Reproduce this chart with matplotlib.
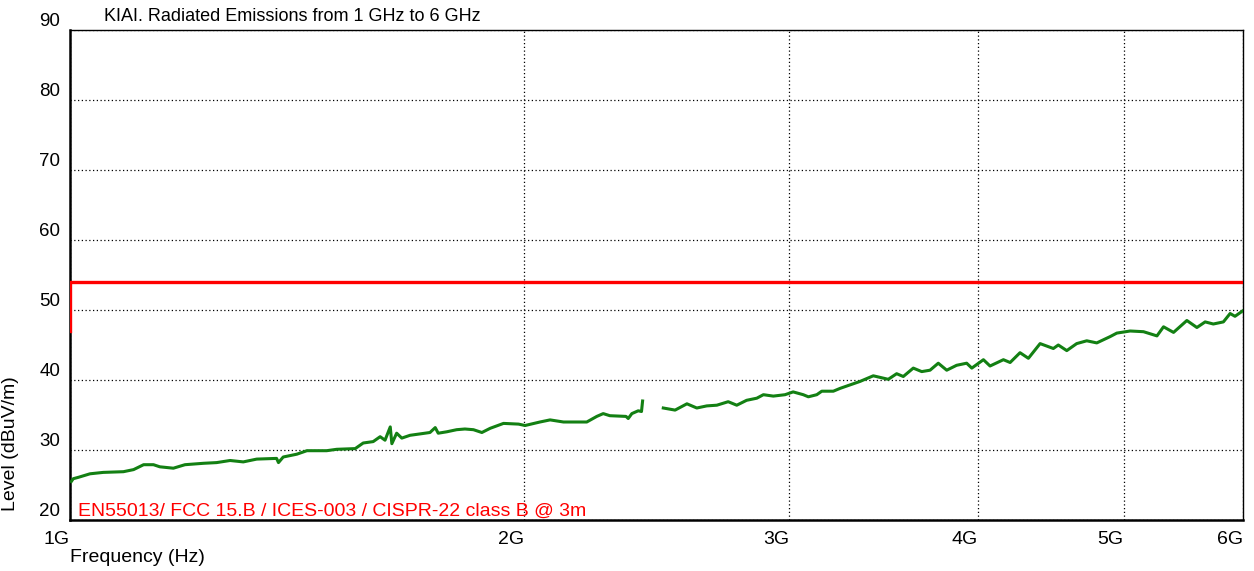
import matplotlib
matplotlib.use('Agg')
import matplotlib.pyplot as plt
import numpy as np

plt.rcParams['font.family'] = ['Liberation Sans', 'DejaVu Sans']

# limit line (EN55013 / FCC 15.B class B @ 3m)
limit_freq_ghz = [1.0, 1.0, 6.0]
limit_level = [47.0, 54.0, 54.0]

# measured trace, first segment (1 GHz .. ~2.4 GHz)
trace1_freq_ghz = [1.002, 1.005, 1.013, 1.031, 1.052, 1.085, 1.102, 1.119, 1.136,
                   1.147, 1.171, 1.192, 1.226, 1.251, 1.277, 1.303, 1.330, 1.371,
                   1.375, 1.385, 1.414, 1.436, 1.480, 1.503, 1.546, 1.565, 1.589,
                   1.606, 1.618, 1.631, 1.635, 1.647, 1.660, 1.681, 1.707, 1.733,
                   1.747, 1.755, 1.778, 1.805, 1.828, 1.852, 1.876, 1.900, 1.939,
                   1.984, 2.004, 2.050, 2.082, 2.125, 2.158, 2.202, 2.236, 2.258,
                   2.281, 2.338, 2.346, 2.359, 2.382, 2.394, 2.398]
trace1_level = [25.5, 25.9, 26.1, 26.6, 26.8, 26.9, 27.2, 27.9, 27.9,
                27.6, 27.4, 27.9, 28.1, 28.2, 28.5, 28.3, 28.7, 28.8,
                28.2, 29.0, 29.4, 29.9, 29.9, 30.1, 30.2, 31.0, 31.2,
                31.9, 31.4, 33.3, 30.9, 32.4, 31.7, 32.1, 32.3, 32.5,
                33.2, 32.4, 32.6, 32.9, 33.0, 32.9, 32.5, 33.1, 33.8,
                33.7, 33.5, 34.0, 34.3, 34.0, 34.0, 34.0, 34.8, 35.2,
                34.9, 34.8, 34.5, 35.2, 35.6, 35.5, 37.0]

# measured trace, second segment (~2.48 GHz .. 6 GHz)
trace2_freq_ghz = [2.475, 2.520, 2.566, 2.605, 2.645, 2.686, 2.733, 2.769, 2.811,
                   2.855, 2.884, 2.928, 2.981, 3.018, 3.065, 3.089, 3.129, 3.153,
                   3.209, 3.242, 3.292, 3.343, 3.411, 3.490, 3.535, 3.571, 3.626,
                   3.673, 3.720, 3.767, 3.816, 3.874, 3.934, 3.965, 4.036, 4.077,
                   4.161, 4.204, 4.268, 4.323, 4.401, 4.491, 4.525, 4.584, 4.654,
                   4.726, 4.799, 4.898, 4.948, 5.050, 5.154, 5.261, 5.314, 5.396,
                   5.507, 5.592, 5.663, 5.734, 5.823, 5.883, 5.927, 6.000]
trace2_level = [36.0, 35.7, 36.6, 36.0, 36.3, 36.4, 36.9, 36.4, 37.1,
                37.4, 37.9, 37.7, 37.9, 38.3, 37.9, 37.6, 37.9, 38.4,
                38.4, 38.8, 39.3, 39.8, 40.6, 40.1, 40.9, 40.5, 41.7,
                41.2, 41.4, 42.4, 41.4, 42.1, 42.4, 41.7, 42.9, 42.0,
                42.9, 42.5, 43.9, 43.1, 45.2, 44.5, 45.0, 44.2, 45.2,
                45.6, 45.3, 46.2, 46.7, 47.0, 46.9, 46.3, 47.6, 46.8,
                48.5, 47.5, 48.3, 48.0, 48.3, 49.5, 49.1, 49.9]

xtick_ghz = [1, 2, 3, 4, 5, 6]
xtick_labels = ['1G', '2G', '3G', '4G', '5G', '6G']
ytick_vals = [20, 30, 40, 50, 60, 70, 80, 90]

fig = plt.figure(figsize=(12.54, 5.71), dpi=100, facecolor='white')
ax = fig.add_axes([70 / 1254, 51 / 571, 1173 / 1254, 490 / 571])

green = '#138013'
ax.plot(np.array(limit_freq_ghz) * 1e9, limit_level, color='#ff0000', lw=2.4, zorder=3)
ax.plot(np.array(trace1_freq_ghz) * 1e9, trace1_level, color=green, lw=2.2, zorder=3)
ax.plot(np.array(trace2_freq_ghz) * 1e9, trace2_level, color=green, lw=2.2, zorder=3)

ax.set_xscale('log')
ax.set_xlim(1e9, 6e9)
ax.set_ylim(20, 90)
ax.set_xticks([v * 1e9 for v in xtick_ghz])
ax.set_xticklabels(xtick_labels)
ax.xaxis.set_minor_locator(matplotlib.ticker.NullLocator())
ax.set_yticks(ytick_vals)
ax.tick_params(axis='x', length=0, labelsize=14, pad=8)
ax.tick_params(axis='y', length=0, labelsize=13.5, pad=7)
for lbl in ax.get_yticklabels():
    lbl.set_verticalalignment('bottom')
for lbl in ax.get_xticklabels():
    lbl.set_horizontalalignment('right')

ax.grid(True, color='black', linestyle=(0, (1, 2)), linewidth=0.9)

for side in ['left', 'bottom']:
    ax.spines[side].set_linewidth(1.8)
for side in ['top', 'right']:
    ax.spines[side].set_linewidth(1.0)

ax.set_xlabel('Frequency (Hz)', fontsize=14)
ax.xaxis.set_label_coords(0.0, -0.06)
ax.xaxis.label.set_horizontalalignment('left')
ax.set_ylabel('Level (dBuV/m)', fontsize=14)
ax.yaxis.set_label_coords(-0.0435, 0.155)

ax.text(0.029, 1.01, 'KIAI. Radiated Emissions from 1 GHz to 6 GHz',
        transform=ax.transAxes, fontsize=13, ha='left', va='bottom')
ax.text(0.007, 0.0, 'EN55013/ FCC 15.B / ICES-003 / CISPR-22 class B @ 3m',
        transform=ax.transAxes, fontsize=14, color='#ff0000', ha='left', va='bottom')

fig.savefig('out.png', dpi=100, facecolor='white')
